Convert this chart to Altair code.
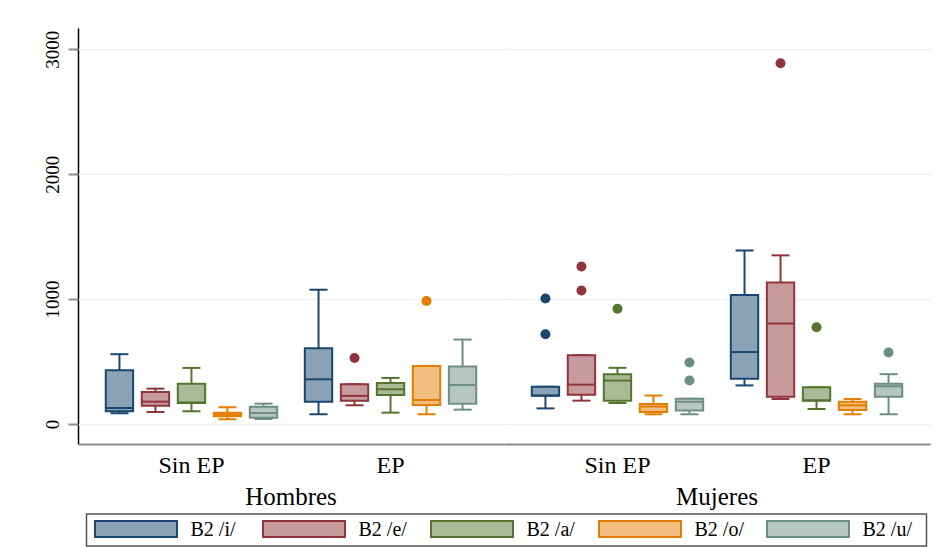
import altair as alt
import pandas as pd

# Categories
sexos = ["Hombres", "Mujeres"]
grupos_ep = ["Sin EP", "EP"]
vocales = ["B2 /i/", "B2 /e/", "B2 /a/", "B2 /o/", "B2 /u/"]

# Box summaries, ordered Hombres/Sin EP, Hombres/EP, Mujeres/Sin EP, Mujeres/EP,
# and within each block by vowel (i, e, a, o, u)
bigote_inf = [86, 96, 102, 38, 40,
              78, 150, 91, 78, 115,
              125, 187, 168, 78, 78,
              309, 200, 120, 78, 78]
cuartil_1 = [102, 147, 168, 62, 51,
             179, 187, 233, 152, 163,
             226, 235, 187, 97, 108,
             362, 219, 187, 112, 219]
mediana = [128, 179, 172, 75, 88,
           358, 225, 278, 192, 312,
           228, 315, 348, 140, 178,
           576, 804, 190, 150, 302]
cuartil_3 = [430, 256, 323, 91, 139,
             607, 318, 329, 465, 460,
             298, 550, 399, 161, 202,
             1032, 1133, 294, 179, 323]
bigote_sup = [559, 283, 449, 134, 163,
              1075, 318, 369, 465, 676,
              298, 550, 450, 228, 202,
              1389, 1350, 294, 200, 399]

# Outside values
atip_sexo = ["Hombres", "Hombres", "Mujeres", "Mujeres", "Mujeres", "Mujeres",
             "Mujeres", "Mujeres", "Mujeres", "Mujeres", "Mujeres", "Mujeres"]
atip_ep = ["EP", "EP", "Sin EP", "Sin EP", "Sin EP", "Sin EP", "Sin EP",
           "Sin EP", "Sin EP", "EP", "EP", "EP"]
atip_vocal = ["B2 /e/", "B2 /o/", "B2 /i/", "B2 /i/", "B2 /e/", "B2 /e/",
              "B2 /a/", "B2 /u/", "B2 /u/", "B2 /e/", "B2 /a/", "B2 /u/"]
atip_valor = [529, 984, 1005, 718, 1261, 1069, 922, 492, 348, 2888, 775, 572]

# Stata-like palette: outlines/points and lighter box fills
tonos = ["#1a476f", "#90353b", "#55752f", "#e37e00", "#6e8e84"]
rellenos = ["#8ca3b7", "#c79a9d", "#aaba97", "#f1be7f", "#b6c6c1"]

SERIF = "Liberation Serif"

filas = []
for k in range(len(mediana)):
    filas.append({
        "sexo": sexos[k // 10],
        "ep": grupos_ep[(k // 5) % 2],
        "vocal": vocales[k % 5],
        "lo": bigote_inf[k], "q1": cuartil_1[k], "med": mediana[k],
        "q3": cuartil_3[k], "hi": bigote_sup[k], "valor": None,
    })
for s, e, v, val in zip(atip_sexo, atip_ep, atip_vocal, atip_valor):
    filas.append({"sexo": s, "ep": e, "vocal": v, "lo": None, "q1": None,
                  "med": None, "q3": None, "hi": None, "valor": val})
df = pd.DataFrame(filas)

x_enc = alt.X("ep:N", sort=grupos_ep,
              scale=alt.Scale(paddingInner=0, paddingOuter=0.07),
              axis=alt.Axis(title=None, labelAngle=0, ticks=False, grid=False,
                            domainColor="#8c8c8c", domainWidth=2,
                            labelFont=SERIF, labelFontSize=24,
                            labelColor="black", labelPadding=9))
xo_enc = alt.XOffset("vocal:N", sort=vocales,
                     scale=alt.Scale(paddingInner=0.24, paddingOuter=0.384))
y_scale = alt.Scale(domain=[-160, 3170], nice=False, zero=False)
y_axis = alt.Axis(title=None, values=[0, 1000, 2000, 3000], format="d",
                  labelAngle=270,
                  labelFont=SERIF, labelFontSize=19, labelColor="black",
                  labelPadding=6, tickSize=10, tickWidth=2, tickColor="#8c8c8c",
                  domainColor="black", domainWidth=1.5,
                  gridColor="#eaf1f3", gridWidth=1.5)

stroke_enc = alt.Stroke("vocal:N", sort=vocales,
                        scale=alt.Scale(domain=vocales, range=tonos),
                        legend=None)
fill_enc = alt.Fill("vocal:N", sort=vocales,
                    scale=alt.Scale(domain=vocales, range=rellenos),
                    legend=None)
color_enc = alt.Color("vocal:N", sort=vocales,
                      scale=alt.Scale(domain=vocales, range=tonos),
                      legend=None)

cajas = alt.Chart().transform_filter("isValid(datum.q1)")

bigotes = cajas.mark_rule(strokeWidth=2).encode(
    x=x_enc, xOffset=xo_enc,
    y=alt.Y("lo:Q", scale=y_scale, axis=y_axis), y2="hi:Q",
    color=color_enc)

tope_inf = cajas.mark_tick(orient="horizontal", size=18, thickness=2,
                           opacity=1).encode(
    x=x_enc, xOffset=xo_enc,
    y=alt.Y("lo:Q", scale=y_scale, axis=y_axis), color=color_enc)

tope_sup = cajas.mark_tick(orient="horizontal", size=18, thickness=2,
                           opacity=1).encode(
    x=x_enc, xOffset=xo_enc,
    y=alt.Y("hi:Q", scale=y_scale, axis=y_axis), color=color_enc)

caja = cajas.mark_bar(strokeWidth=2, opacity=1).encode(
    x=x_enc, xOffset=xo_enc,
    y=alt.Y("q1:Q", scale=y_scale, axis=y_axis), y2="q3:Q",
    fill=fill_enc, stroke=stroke_enc)

medianas = cajas.mark_tick(orient="horizontal", size=27, thickness=2,
                           opacity=1).encode(
    x=x_enc, xOffset=xo_enc,
    y=alt.Y("med:Q", scale=y_scale, axis=y_axis), color=color_enc)

puntos = alt.Chart().transform_filter("isValid(datum.valor)").mark_circle(
    size=100, opacity=1).encode(
    x=x_enc, xOffset=xo_enc,
    y=alt.Y("valor:Q", scale=y_scale, axis=y_axis), color=color_enc)

panel = alt.layer(bigotes, tope_inf, tope_sup, caja, medianas,
                  puntos).properties(width=426, height=416)

grafico = panel.facet(
    column=alt.Column("sexo:N", sort=sexos, title=None,
                      header=alt.Header(labelOrient="bottom", labelFont=SERIF,
                                        labelFontSize=25, labelColor="black",
                                        labelPadding=8)),
    data=df, spacing=0,
)

# Legend strip: one entry per vowel, swatch plus label, inside a frame
ley_df = pd.DataFrame({"vocal": vocales})
ley_x = alt.X("vocal:N", sort=vocales, axis=None,
              scale=alt.Scale(paddingInner=0, paddingOuter=0.0506))

marco = alt.Chart(alt.InlineData(values=[{"marco": 1}])).mark_rect(
    filled=False, color="#555555", strokeWidth=1.5).encode(
    x=alt.value(8.5), x2=alt.value(848.5), y=alt.value(0), y2=alt.value(32))

muestras = alt.Chart(ley_df).mark_bar(width=82, xOffset=-34.5,
                                      strokeWidth=2).encode(
    x=ley_x, y=alt.value(7), y2=alt.value(23),
    fill=fill_enc, stroke=stroke_enc)

etiquetas = alt.Chart(ley_df).mark_text(
    align="left", baseline="middle", dx=20, font=SERIF, fontSize=20,
    color="black").encode(x=ley_x, y=alt.value(15.5), text="vocal:N")

leyenda = alt.layer(marco, muestras, etiquetas).properties(width=857, height=30)

chart = alt.vconcat(grafico, leyenda, spacing=3).resolve_scale(
    x="independent"
).properties(
    padding={"left": 42, "top": 28, "right": 0, "bottom": 0},
).configure_view(stroke=None)

chart.save("out.html", embed_options={"renderer": "svg", "actions": False})
